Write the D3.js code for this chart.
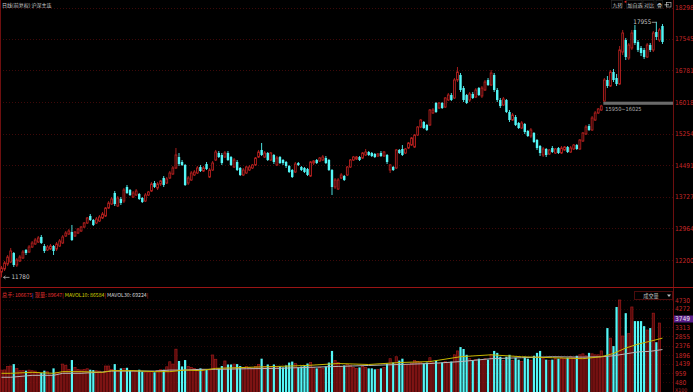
<!DOCTYPE html>
<html><head><meta charset="utf-8">
<script src="https://cdn.jsdelivr.net/npm/d3@7"></script>
<style>body{margin:0;background:#000;overflow:hidden}svg{display:block;font-family:"Noto Sans CJK SC","Noto Sans",sans-serif}</style>
</head><body><svg id="c" width="693" height="392"></svg>
<script>
const opens=[11910,11983,12103,12152,12369,12079,12176,12248,12442,12393,12514,12587,12635,12756,12538,12442,12466,12538,12466,12538,12611,12780,12828,12876,12780,12852,12901,12997,13094,13263,13166,13094,13142,13215,13263,13456,13553,13819,13505,13674,13625,13964,13891,13722,13770,13795,13698,13625,13770,13867,14060,13940,14036,14181,14060,14181,14278,14423,14688,14568,14495,14060,14133,14254,14302,14447,14350,14519,14205,14374,14616,14785,14737,14688,14785,14688,14447,14568,14423,14254,14302,14374,14423,14495,14688,14858,14688,14785,14616,14737,14495,14688,14616,14568,14471,14374,14326,14543,14447,14423,14398,14229,14543,14616,14592,14616,14664,14616,14374,13964,13915,14181,14229,14254,14447,14616,14640,14688,14664,14737,14809,14785,14761,14713,14785,14713,14737,14374,14447,14423,14858,14882,14785,14906,14978,14930,15220,15413,15534,15462,15462,15752,15993,15872,15993,15896,16066,16186,16114,16549,16670,16355,16186,16066,16211,16138,16355,16162,16307,16549,16428,16670,16307,16066,15945,16066,15776,15582,15655,15510,15389,15486,15317,15196,15268,15099,14954,14737,14882,14761,14906,14785,14906,14785,14858,14930,14809,14882,14978,14882,15075,15244,15437,15341,15582,15752,15824,16041,16549,16404,16742,16597,16452,17225,17515,17080,17322,17757,17467,17322,17274,17104,17394,17274,17708,17515,17853];
const highs=[12055,12176,12321,12490,12393,12248,12321,12442,12466,12562,12659,12732,12780,12804,12587,12562,12587,12562,12635,12707,12804,12901,12949,13046,12901,12973,13021,13118,13239,13311,13190,13239,13287,13360,13480,13625,13722,13867,13746,13722,13940,14012,13915,13867,13915,13819,13722,13819,13867,14084,14109,14084,14133,14229,14205,14350,14471,14906,14785,14616,14519,14229,14350,14374,14471,14495,14471,14568,14423,14592,14858,14833,14785,14833,14833,14713,14664,14616,14447,14423,14471,14495,14519,14688,14858,15027,14833,14809,14809,14761,14713,14713,14640,14592,14495,14398,14568,14568,14471,14447,14423,14592,14616,14640,14688,14737,14713,14640,14398,14181,14181,14302,14254,14471,14640,14713,14713,14713,14809,14882,14833,14809,14785,14785,14833,14833,14761,14519,14471,14882,14882,14978,14906,15051,15172,15244,15437,15607,15558,15486,15848,15872,16017,16017,16017,16138,16235,16235,16597,16863,16718,16404,16211,16259,16259,16355,16380,16404,16549,16597,16790,16718,16355,16114,16138,16090,15824,15752,15703,15534,15558,15510,15341,15389,15292,15123,14978,14930,14906,14882,14954,14906,14930,14954,14954,14954,14954,15003,15003,15123,15292,15462,15486,15679,15800,15872,15950,16597,16645,16790,16815,16694,17370,17757,17564,17443,17757,17878,17515,17370,17322,17443,17443,17733,17955,17805,17902];
const lows=[11780,11934,12055,12128,12031,12031,12152,12224,12321,12369,12490,12562,12611,12587,12369,12417,12442,12321,12417,12514,12587,12756,12804,12659,12756,12828,12876,12973,13070,13142,13021,13070,13118,13190,13239,13432,13529,13505,13480,13529,13577,13795,13746,13698,13746,13650,13577,13601,13746,13843,13940,13891,13988,13964,14036,14157,14254,14398,14471,14471,13988,14012,14109,14229,14278,14326,14326,14374,14181,14350,14592,14664,14495,14664,14592,14471,14423,14350,14229,14229,14278,14350,14398,14471,14664,14713,14664,14592,14592,14519,14471,14519,14495,14423,14302,14181,14302,14471,14350,14302,14229,14205,14495,14519,14568,14592,14519,14350,13770,13915,13891,14157,14109,14229,14423,14592,14616,14592,14640,14713,14713,14688,14664,14688,14688,14688,14519,14302,14350,14398,14761,14713,14761,14882,14954,14906,15196,15389,15365,15317,15437,15727,15752,15848,15848,15872,16041,16041,16090,16500,16259,16017,15969,16017,16090,16114,16162,16114,16283,16404,16404,16259,16017,15872,15921,15752,15534,15558,15437,15365,15365,15244,15172,15148,15027,14858,14713,14688,14688,14737,14785,14761,14761,14761,14833,14785,14785,14858,14858,14858,15051,15220,15317,15317,15558,15727,15800,16025,16355,16380,16500,16404,16428,17153,17032,17032,17274,17394,17225,17129,17056,17080,17225,17225,17515,17467,17419];
const closes=[12007,12128,12272,12417,12079,12200,12272,12393,12369,12514,12611,12683,12732,12611,12417,12514,12538,12417,12587,12659,12756,12852,12901,12683,12876,12949,12997,13094,13215,13166,13046,13190,13239,13311,13456,13577,13674,13553,13698,13577,13891,13819,13770,13819,13867,13674,13601,13770,13843,14036,13964,14036,14109,14012,14157,14302,14423,14737,14519,14495,14012,14181,14302,14326,14423,14350,14423,14398,14374,14543,14809,14688,14543,14785,14616,14495,14616,14374,14254,14374,14447,14447,14495,14664,14809,14737,14785,14616,14785,14568,14664,14543,14543,14471,14326,14205,14519,14495,14374,14326,14254,14568,14592,14543,14664,14688,14543,14374,13964,14133,14133,14254,14133,14447,14616,14688,14688,14616,14785,14809,14737,14713,14688,14761,14713,14809,14568,14495,14374,14858,14785,14737,14882,15027,15148,15220,15413,15582,15389,15341,15824,15824,15776,15993,15872,16114,16186,16066,16549,16742,16307,16066,15993,16211,16114,16307,16186,16355,16500,16428,16718,16307,16066,15921,16090,15776,15582,15703,15462,15389,15510,15292,15196,15341,15051,14906,14785,14882,14737,14858,14809,14882,14785,14906,14930,14809,14906,14978,14882,15099,15268,15413,15341,15631,15752,15848,15921,16549,16404,16742,16549,16452,17274,17684,17104,17394,17684,17443,17274,17201,17104,17394,17274,17684,17588,17757,17467];
const volumes=[1110,1120,1290,1320,1420,1200,1080,1090,1080,1110,1080,1060,1000,960,1080,1030,870,1200,1000,960,1420,1360,1150,1630,1250,1150,1120,1150,1180,1130,1110,1080,1060,1000,1320,1320,1150,1420,1100,1200,1200,1230,1100,1080,1060,1130,1030,1000,1000,1050,1000,1080,1130,1130,1280,1540,1420,2190,1580,1300,1630,1300,1250,1200,1150,1200,1150,1120,1100,1890,1670,1200,1320,1580,1400,1400,1420,1420,1320,1250,1300,1250,1200,1300,1400,1700,1300,1400,1300,1400,1250,1300,1250,1350,1500,1550,1450,1250,1300,1350,1450,1500,1250,1200,1250,1200,1300,1500,2100,1600,1500,1300,1350,1400,1350,1250,1200,1250,1300,1250,1200,1200,1150,1150,1200,1250,1450,1700,1500,1800,1600,1700,1400,1400,1450,1600,1550,1500,1450,1500,1750,1500,1600,1450,1500,1550,1500,1550,1900,2100,2300,2200,1900,1700,1600,1650,1700,1650,1700,1650,1900,2100,2000,1800,1600,1800,1900,1600,1750,1650,1550,1800,1700,1600,1850,2000,2100,1700,1650,1600,1650,1700,1700,1750,1700,1750,1800,1750,1850,1900,1950,1850,2000,1950,1900,1900,2100,1800,3280,2760,2350,4370,4730,2870,4050,3000,4370,3640,3640,3640,3380,3180,3280,4050,2550,3540];
const priceTicks=[12200,12964,13727,14491,15254,16018,16781,17545,18298];
const volTicks=[480,959,1439,1896,2376,2855,3313,4272,4730];
const volMarker=3749;
const maIdx=[0,3,10,17,20,26,33,36,43,50,55,60,65,70,80,90,100,110,120,130,140,150,160,170,180,190,196,200,204,208,212,216];
const ma10=[945,945,995,945,1030,1030,995,1080,1080,1030,1030,1115,1080,1200,1250,1300,1350,1450,1400,1500,1550,1800,1900,1800,1750,1700,1800,1970,2250,2450,2600,2760];
const ma30=[740,740,840,840,945,945,1010,1060,1060,1060,1110,1110,1150,1150,1180,1200,1250,1300,1350,1400,1450,1550,1700,1750,1800,1780,1800,1850,1950,2050,2080,2170];
const gapLow=15950, gapHigh=16025, maxIdx=214, minIdx=0;

const n=closes.length;
const svg=d3.select('#c');
const W=693, AX=673;
const NUMF='"Liberation Sans Narrow","DejaVu Sans Condensed",sans-serif';
const x=d3.scaleBand().domain(d3.range(n)).range([0,664]);
const cx=i=>x(i)+x.bandwidth()/2;
const y=d3.scaleLinear().domain([12200,18298]).range([260,7.6]);
const yv=d3.scaleLinear().domain([0,4730]).range([391.6,300]);
const RED='#b8201f', CYAN='#54f6f6';

svg.append('rect').attr('width',W).attr('height',392).attr('fill','#000');
svg.append('g').selectAll('line').data(priceTicks).join('line')
 .attr('x1',0).attr('x2',AX).attr('y1',d=>Math.round(y(d))+.5).attr('y2',d=>Math.round(y(d))+.5)
 .attr('stroke','#3e0909').attr('stroke-dasharray','1,2');
svg.append('g').selectAll('line').data(volTicks.concat([3792])).join('line')
 .attr('x1',0).attr('x2',AX).attr('y1',d=>Math.round(yv(d))+.5).attr('y2',d=>Math.round(yv(d))+.5)
 .attr('stroke','#2a0606').attr('stroke-dasharray','1,2');

svg.append('line').attr('x1',AX+.5).attr('x2',AX+.5).attr('y1',0).attr('y2',392).attr('stroke','#6e0f0f');
svg.append('line').attr('x1',.5).attr('x2',.5).attr('y1',0).attr('y2',392).attr('stroke','#6e0f0f');
svg.append('line').attr('x1',0).attr('x2',W).attr('y1',287.5).attr('y2',287.5).attr('stroke','#9a1414');

// gap band
svg.append('rect').attr('x',cx(197)-1).attr('width',AX-cx(197)+1).attr('y',y(gapHigh)).attr('height',y(gapLow)-y(gapHigh)).attr('fill','#6a6a6a');
svg.append('text').attr('x',cx(197)+1).attr('y',y(gapLow)+6).attr('fill','#b0b0b0').attr('font-size',5.6).attr('font-family',NUMF).text(gapLow+'~'+gapHigh);

// candles
const cg=svg.append('g');
const idx=d3.range(n);
cg.selectAll('line').data(idx).join('line')
 .attr('x1',i=>cx(i)).attr('x2',i=>cx(i)).attr('y1',i=>y(highs[i])).attr('y2',i=>y(lows[i]))
 .attr('stroke',i=>closes[i]>=opens[i]?RED:CYAN).attr('stroke-width',0.9);
cg.selectAll('rect').data(idx).join('rect')
 .attr('x',i=>closes[i]>=opens[i]?cx(i)-0.9:cx(i)-1.2)
 .attr('width',i=>closes[i]>=opens[i]?1.8:2.4)
 .attr('y',i=>y(Math.max(opens[i],closes[i])))
 .attr('height',i=>Math.max(0.8,Math.abs(y(opens[i])-y(closes[i]))))
 .attr('fill',i=>closes[i]>=opens[i]?'#000':CYAN)
 .attr('stroke',i=>closes[i]>=opens[i]?RED:'none').attr('stroke-width',0.9);

// high / low labels
const hy=y(highs[maxIdx]);
svg.append('text').attr('x',cx(maxIdx)-5).attr('y',hy+2).attr('fill','#c8c8c8').attr('font-size',6.3).attr('font-family',NUMF).attr('text-anchor','end').text(highs[maxIdx]);
svg.append('line').attr('x1',cx(maxIdx)-4.5).attr('x2',cx(maxIdx)).attr('y1',hy+.5).attr('y2',hy+.5).attr('stroke','#c8c8c8').attr('stroke-width',0.7);
const ly=y(lows[minIdx]);
svg.append('line').attr('x1',cx(minIdx)+2).attr('x2',cx(minIdx)+8).attr('y1',ly).attr('y2',ly).attr('stroke','#c8c8c8').attr('stroke-width',0.7);
svg.append('path').attr('d',`M${cx(minIdx)+4},${ly-1.5}L${cx(minIdx)+2},${ly}L${cx(minIdx)+4},${ly+1.5}`).attr('stroke','#c8c8c8').attr('fill','none').attr('stroke-width',0.7);
svg.append('text').attr('x',cx(minIdx)+10).attr('y',ly+2).attr('fill','#c8c8c8').attr('font-size',6.3).attr('font-family',NUMF).text(lows[minIdx]);

// volume bars
const vg=svg.append('g');
vg.selectAll('rect').data(idx).join('rect')
 .attr('x',i=>cx(i)-1.1).attr('width',2.2)
 .attr('y',i=>yv(volumes[i])).attr('height',i=>yv(0)-yv(volumes[i])+2)
 .attr('fill',i=>closes[i]>=opens[i]?'#520b0b':CYAN)
 .attr('stroke',i=>closes[i]>=opens[i]?'#a01a1a':'none').attr('stroke-width',0.7);
const ln=d3.line().x((d,k)=>cx(maIdx[k])).y(d=>yv(d));
svg.append('path').attr('d',ln(ma30)).attr('fill','none').attr('stroke','#b8b8b8').attr('stroke-width',1);
svg.append('path').attr('d',ln(ma10)).attr('fill','none').attr('stroke','#c9b800').attr('stroke-width',1);

// axes
function styleAxis(g){g.select('.domain').remove();g.selectAll('text').attr('fill','#c42626').attr('font-size',6.6).attr('font-family',NUMF);}
svg.append('g').attr('transform',`translate(${AX},0)`)
 .call(d3.axisRight(y).tickValues(priceTicks).tickSize(0).tickPadding(2).tickFormat(d3.format('d'))).call(styleAxis);
svg.append('g').attr('transform',`translate(${AX},0)`)
 .call(d3.axisRight(yv).tickValues(volTicks).tickSize(0).tickPadding(2).tickFormat(d3.format('d'))).call(styleAxis);
svg.append('text').attr('x',AX+2).attr('y',392).attr('fill','#c42626').attr('font-size',5.2).attr('font-family',NUMF).text('X100');
svg.append('rect').attr('x',AX+1).attr('y',yv(volMarker)-3.5).attr('width',19).attr('height',7).attr('fill','#5a1d8c');
svg.append('text').attr('x',AX+2).attr('y',yv(volMarker)+2.4).attr('fill','#e8e8e8').attr('font-size',6.6).attr('font-family',NUMF).text(volMarker);

// titles
svg.append('text').attr('x',2).attr('y',7).attr('fill','#cfcfcf').attr('font-size',5).text('日线(前复权)  沪深主连');
const tb=[['九转',612.5,11],['加自选',627.5,15.5],['对比',644,11],['叠',657,6.5]];
const tg=svg.append('g');
tg.selectAll('rect').data(tb).join('rect').attr('x',d=>d[1]-1).attr('y',0.5).attr('width',d=>d[2]).attr('height',8).attr('fill','none').attr('stroke','#2a2a2a').attr('stroke-width',0.6);
tg.selectAll('text').data(tb).join('text').attr('x',d=>d[1]).attr('y',6.6).attr('fill','#cfcfcf').attr('font-size',5).text(d=>d[0]);
svg.append('circle').attr('cx',625.5).attr('cy',1.8).attr('r',1).attr('fill','#e02020');
svg.append('rect').attr('x',666.5).attr('y',2.5).attr('width',4.5).attr('height',4.5).attr('fill','none').attr('stroke','#cfcfcf').attr('stroke-width',0.6);
svg.append('line').attr('x1',664.5).attr('x2',669).attr('y1',4.8).attr('y2',4.8).attr('stroke','#cfcfcf').attr('stroke-width',0.8);

// volume legend
const lg=svg.append('text').attr('x',2).attr('y',297).attr('font-size',5.2);
lg.append('tspan').attr('fill','#e03030').text('总手: 106675');
lg.append('tspan').attr('fill','#2a7fff').text('| ');
lg.append('tspan').attr('fill','#e03030').text('现量: 89647');
lg.append('tspan').attr('fill','#e03030').text('| ');
lg.append('tspan').attr('fill','#d4d400').text('MAVOL10: 86584');
lg.append('tspan').attr('fill','#e03030').text('| ');
lg.append('tspan').attr('fill','#d8d8d8').text('MAVOL30: 69224');
lg.append('tspan').attr('fill','#e03030').text('|');
svg.append('rect').attr('x',634.5).attr('y',291.5).attr('width',38).attr('height',8).attr('fill','#000').attr('stroke','#4a0c0c');
svg.append('text').attr('x',651).attr('y',297.6).attr('fill','#bdbdbd').attr('font-size',5.2).attr('text-anchor','middle').text('成交量');
svg.append('path').attr('d','M667,294.5L671,294.5L669,297Z').attr('fill','#bdbdbd');
</script></body></html>
